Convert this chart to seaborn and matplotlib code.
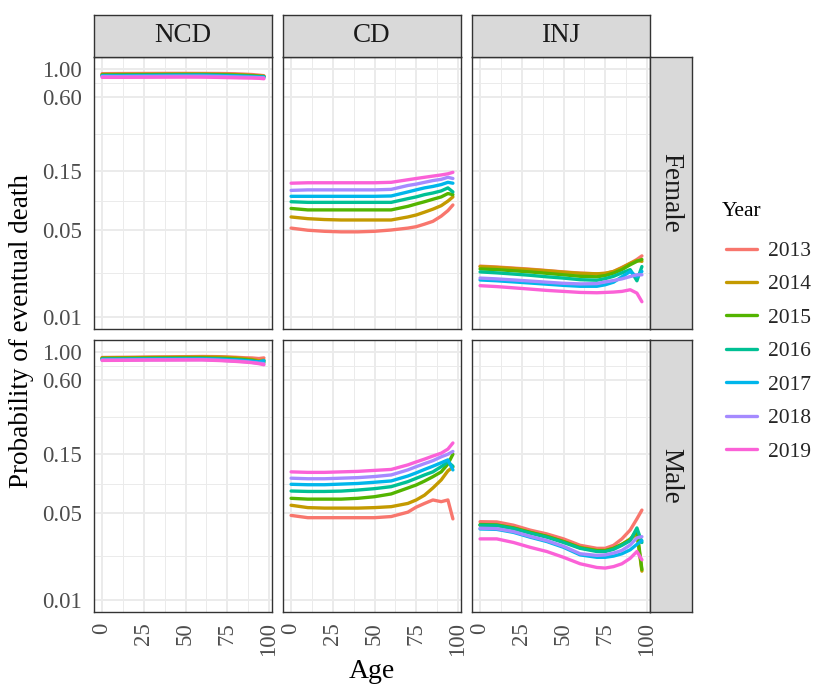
import numpy as np
import pandas as pd
import matplotlib
matplotlib.use("Agg")
import matplotlib.pyplot as plt
from matplotlib.ticker import FixedLocator, NullFormatter
import seaborn as sns

# ---------------- data ----------------
ages = [0, 10, 20, 30, 40, 50, 60, 70, 75, 80, 85, 90, 94, 97]
years = ["2013", "2014", "2015", "2016", "2017", "2018", "2019"]
causes = ["NCD", "CD", "INJ"]
sexes = ["Female", "Male"]
year_colors = ["#F8766D", "#C49A00", "#53B400", "#00C094", "#00B6EB", "#A58AFF", "#FB61D7"]

ncd_female = {
    "2013": [0.923, 0.925, 0.926, 0.927, 0.928, 0.928, 0.927, 0.926, 0.924, 0.921, 0.915, 0.908, 0.898, 0.889],
    "2014": [0.911, 0.913, 0.914, 0.915, 0.916, 0.917, 0.917, 0.914, 0.911, 0.907, 0.901, 0.894, 0.884, 0.879],
    "2015": [0.901, 0.903, 0.905, 0.906, 0.908, 0.909, 0.909, 0.905, 0.901, 0.897, 0.893, 0.888, 0.879, 0.875],
    "2016": [0.892, 0.894, 0.896, 0.898, 0.900, 0.901, 0.901, 0.897, 0.893, 0.889, 0.884, 0.879, 0.872, 0.873],
    "2017": [0.886, 0.887, 0.889, 0.890, 0.892, 0.893, 0.894, 0.889, 0.885, 0.881, 0.876, 0.871, 0.866, 0.862],
    "2018": [0.875, 0.874, 0.876, 0.877, 0.879, 0.880, 0.880, 0.876, 0.872, 0.869, 0.865, 0.862, 0.857, 0.856],
    "2019": [0.862, 0.862, 0.863, 0.864, 0.865, 0.866, 0.865, 0.861, 0.858, 0.855, 0.852, 0.850, 0.847, 0.840],
}
cd_female = {
    "2013": [0.052, 0.050, 0.049, 0.0485, 0.0485, 0.049, 0.0502, 0.052, 0.0534, 0.056, 0.059, 0.065, 0.072, 0.080],
    "2014": [0.064, 0.062, 0.061, 0.0605, 0.0605, 0.0605, 0.0605, 0.064, 0.0664, 0.070, 0.074, 0.079, 0.086, 0.093],
    "2015": [0.075, 0.073, 0.073, 0.073, 0.073, 0.073, 0.073, 0.078, 0.0815, 0.085, 0.089, 0.093, 0.099, 0.097],
    "2016": [0.085, 0.084, 0.084, 0.084, 0.084, 0.084, 0.084, 0.090, 0.093, 0.097, 0.100, 0.104, 0.110, 0.102],
    "2017": [0.094, 0.094, 0.094, 0.094, 0.094, 0.094, 0.0946, 0.102, 0.106, 0.110, 0.113, 0.117, 0.122, 0.120],
    "2018": [0.105, 0.106, 0.106, 0.106, 0.106, 0.106, 0.107, 0.115, 0.118, 0.122, 0.126, 0.129, 0.134, 0.131],
    "2019": [0.120, 0.121, 0.121, 0.121, 0.121, 0.121, 0.122, 0.128, 0.131, 0.134, 0.137, 0.140, 0.143, 0.147],
}
inj_female = {
    "2013": [0.0256, 0.0252, 0.0247, 0.0242, 0.0236, 0.0230, 0.0225, 0.0222, 0.0224, 0.0232, 0.0250, 0.0270, 0.0290, 0.0310],
    "2014": [0.0254, 0.0250, 0.0245, 0.0240, 0.0235, 0.0229, 0.0224, 0.0222, 0.0224, 0.0232, 0.0248, 0.0270, 0.0285, 0.0280],
    "2015": [0.0243, 0.0240, 0.0235, 0.0230, 0.0224, 0.0218, 0.0212, 0.0210, 0.0215, 0.0225, 0.0240, 0.0263, 0.0280, 0.0290],
    "2016": [0.0230, 0.0226, 0.0221, 0.0216, 0.0210, 0.0205, 0.0199, 0.0197, 0.0203, 0.0212, 0.0226, 0.0240, 0.0195, 0.0254],
    "2017": [0.0198, 0.0195, 0.0191, 0.0187, 0.0183, 0.0179, 0.0176, 0.0176, 0.0181, 0.0190, 0.0210, 0.0232, 0.0210, 0.0232],
    "2018": [0.0205, 0.0202, 0.0198, 0.0194, 0.0190, 0.0186, 0.0184, 0.0185, 0.0191, 0.0196, 0.0202, 0.0211, 0.0218, 0.0218],
    "2019": [0.0178, 0.0175, 0.0171, 0.0167, 0.0163, 0.0160, 0.0157, 0.0156, 0.0157, 0.0158, 0.0160, 0.0165, 0.0155, 0.0132],
}
ncd_male = {
    "2013": [0.909, 0.912, 0.914, 0.918, 0.920, 0.923, 0.926, 0.923, 0.918, 0.913, 0.905, 0.901, 0.891, 0.902],
    "2014": [0.902, 0.905, 0.907, 0.910, 0.912, 0.915, 0.917, 0.915, 0.911, 0.904, 0.892, 0.876, 0.856, 0.865],
    "2015": [0.894, 0.895, 0.897, 0.900, 0.901, 0.902, 0.902, 0.895, 0.891, 0.883, 0.873, 0.862, 0.838, 0.832],
    "2016": [0.884, 0.885, 0.887, 0.890, 0.891, 0.892, 0.892, 0.886, 0.880, 0.872, 0.864, 0.851, 0.832, 0.851],
    "2017": [0.877, 0.878, 0.880, 0.882, 0.883, 0.884, 0.886, 0.878, 0.872, 0.865, 0.857, 0.847, 0.837, 0.858],
    "2018": [0.866, 0.867, 0.869, 0.871, 0.873, 0.874, 0.874, 0.865, 0.858, 0.850, 0.842, 0.829, 0.818, 0.810],
    "2019": [0.861, 0.862, 0.864, 0.866, 0.866, 0.867, 0.868, 0.859, 0.852, 0.845, 0.836, 0.825, 0.810, 0.794],
}
cd_male = {
    "2013": [0.048, 0.046, 0.046, 0.046, 0.046, 0.046, 0.047, 0.051, 0.056, 0.060, 0.064, 0.062, 0.064, 0.045],
    "2014": [0.058, 0.0555, 0.055, 0.055, 0.055, 0.0555, 0.0565, 0.060, 0.064, 0.070, 0.080, 0.093, 0.110, 0.118],
    "2015": [0.066, 0.065, 0.065, 0.065, 0.066, 0.068, 0.0716, 0.080, 0.0846, 0.091, 0.0987, 0.108, 0.125, 0.150],
    "2016": [0.0756, 0.075, 0.075, 0.0755, 0.077, 0.079, 0.082, 0.090, 0.0958, 0.102, 0.108, 0.119, 0.130, 0.120],
    "2017": [0.0857, 0.085, 0.085, 0.086, 0.087, 0.089, 0.0912, 0.100, 0.106, 0.113, 0.120, 0.128, 0.135, 0.112],
    "2018": [0.096, 0.095, 0.095, 0.096, 0.097, 0.099, 0.102, 0.112, 0.119, 0.126, 0.133, 0.143, 0.150, 0.158],
    "2019": [0.108, 0.107, 0.107, 0.108, 0.109, 0.111, 0.113, 0.123, 0.130, 0.137, 0.145, 0.153, 0.165, 0.185],
}
inj_male = {
    "2013": [0.0427, 0.0425, 0.0400, 0.0365, 0.0340, 0.0310, 0.0275, 0.0260, 0.0260, 0.0275, 0.0310, 0.0366, 0.0450, 0.0530],
    "2014": [0.0400, 0.0400, 0.0380, 0.0350, 0.0325, 0.0295, 0.0265, 0.0250, 0.0250, 0.0260, 0.0280, 0.0310, 0.0340, 0.0170],
    "2015": [0.0405, 0.0402, 0.0380, 0.0350, 0.0325, 0.0295, 0.0262, 0.0249, 0.0249, 0.0260, 0.0280, 0.0305, 0.0366, 0.0175],
    "2016": [0.0400, 0.0398, 0.0375, 0.0345, 0.0320, 0.0290, 0.0260, 0.0245, 0.0245, 0.0255, 0.0275, 0.0300, 0.0380, 0.0290],
    "2017": [0.0373, 0.0370, 0.0350, 0.0320, 0.0295, 0.0265, 0.0230, 0.0220, 0.0220, 0.0225, 0.0235, 0.0253, 0.0280, 0.0300],
    "2018": [0.0378, 0.0375, 0.0355, 0.0325, 0.0300, 0.0270, 0.0235, 0.0228, 0.0230, 0.0238, 0.0250, 0.0277, 0.0316, 0.0323],
    "2019": [0.0310, 0.0310, 0.0290, 0.0265, 0.0245, 0.0220, 0.0195, 0.0182, 0.0180, 0.0185, 0.0195, 0.0216, 0.0245, 0.0210],
}

y_breaks = [0.01, 0.05, 0.15, 0.60, 1.00]
y_break_labels = ["0.01", "0.05", "0.15", "0.60", "1.00"]
x_breaks = [0, 25, 50, 75, 100]

tables = {
    ("Female", "NCD"): ncd_female, ("Female", "CD"): cd_female, ("Female", "INJ"): inj_female,
    ("Male", "NCD"): ncd_male, ("Male", "CD"): cd_male, ("Male", "INJ"): inj_male,
}
records = []
for (sex, cause), tab in tables.items():
    for yr in years:
        for a, v in zip(ages, tab[yr]):
            records.append({"Sex": sex, "Cause": cause, "Year": yr, "Age": a, "Prob": v})
df = pd.DataFrame(records)

# ---------------- style ----------------
sns.set_style("white")
plt.rcParams["font.family"] = ["Liberation Serif", "DejaVu Serif"]

W, H = 817, 686
fig = plt.figure(figsize=(W / 100, H / 100), dpi=100)

def fx(px):
    return px / W

def fy(py):
    return 1 - py / H

col_x = [94, 283, 472]
panel_w = 178
row_y = [57, 340]
panel_h = 272
palette = dict(zip(years, year_colors))
edge = "#333333"
grid_c = "#EBEBEB"

minor_y = [0.02236, 0.0866, 0.3, 0.7746]
minor_x = [12.5, 37.5, 62.5, 87.5]

first_ax = None
for i, sex in enumerate(sexes):
    for j, cause in enumerate(causes):
        ax = fig.add_axes([fx(col_x[j]), fy(row_y[i] + panel_h), fx(panel_w), panel_h / H])
        sub = df[(df.Sex == sex) & (df.Cause == cause)]
        sns.lineplot(data=sub, x="Age", y="Prob", hue="Year", hue_order=years,
                     palette=palette, linewidth=2.4, legend=False, ax=ax,
                     estimator=None, sort=True)
        if first_ax is None:
            first_ax = ax
        ax.set_yscale("log")
        ax.set_ylim(10 ** -2.1, 10 ** 0.1)
        ax.set_xlim(-4.85, 101.85)
        ax.set_yticks(y_breaks)
        ax.set_yticklabels(y_break_labels)
        ax.set_xticks(x_breaks)
        ax.yaxis.set_minor_locator(FixedLocator(minor_y))
        ax.yaxis.set_minor_formatter(NullFormatter())
        ax.xaxis.set_minor_locator(FixedLocator(minor_x))
        ax.set_axisbelow(True)
        ax.grid(which="major", color=grid_c, linewidth=1.4)
        ax.grid(which="minor", color=grid_c, linewidth=0.7)
        ax.tick_params(which="minor", length=0)
        ax.tick_params(which="major", length=4.3, width=1, color=edge,
                       labelcolor="#4D4D4D", labelsize=16.5, pad=4.5)
        ax.set_xlabel("")
        ax.set_ylabel("")
        for s in ax.spines.values():
            s.set_color(edge)
            s.set_linewidth(1.0)
        if j > 0:
            ax.tick_params(axis="y", left=False, labelleft=False)
        if i == 0:
            ax.tick_params(axis="x", bottom=False, labelbottom=False)
        else:
            ax.tick_params(axis="x", pad=3)
            for lab in ax.get_xticklabels():
                lab.set_rotation(90)
                lab.set_va("top")
                lab.set_ha("center")

# top strips
for j, cause in enumerate(causes):
    sax = fig.add_axes([fx(col_x[j]), fy(57), fx(panel_w), 42 / H])
    sax.set_facecolor("#D9D9D9")
    sax.set_xticks([]); sax.set_yticks([])
    for s in sax.spines.values():
        s.set_color(edge); s.set_linewidth(1.0)
    sax.text(0.5, 0.5, cause, ha="center", va="center", fontsize=19.5,
             color="#1A1A1A", transform=sax.transAxes)

# right strips
for i, sex in enumerate(sexes):
    sax = fig.add_axes([fx(650), fy(row_y[i] + panel_h), fx(42), panel_h / H])
    sax.set_facecolor("#D9D9D9")
    sax.set_xticks([]); sax.set_yticks([])
    for s in sax.spines.values():
        s.set_color(edge); s.set_linewidth(1.0)
    sax.text(0.5, 0.5, sex, ha="center", va="center", fontsize=19.5, rotation=270,
             color="#1A1A1A", transform=sax.transAxes)

# axis titles
fig.text(fx(22), fy(331), "Probability of eventual death", rotation=90,
         ha="center", va="center", fontsize=19.5, color="black")
fig.text(fx(372), fy(671), "Age", ha="center", va="center", fontsize=20, color="black")

# legend
fig.text(fx(722), fy(212), "Year", ha="left", va="center", fontsize=15.5, color="black")
handles = first_ax.get_lines()[:len(years)]
leg = fig.legend(handles, years, loc="upper left",
                 bbox_to_anchor=(fx(726), fy(241)), frameon=False,
                 fontsize=15.5, handlelength=1.45, borderpad=0, borderaxespad=0,
                 handletextpad=0.5, labelspacing=0.62)

fig.savefig("out.png", dpi=100)
